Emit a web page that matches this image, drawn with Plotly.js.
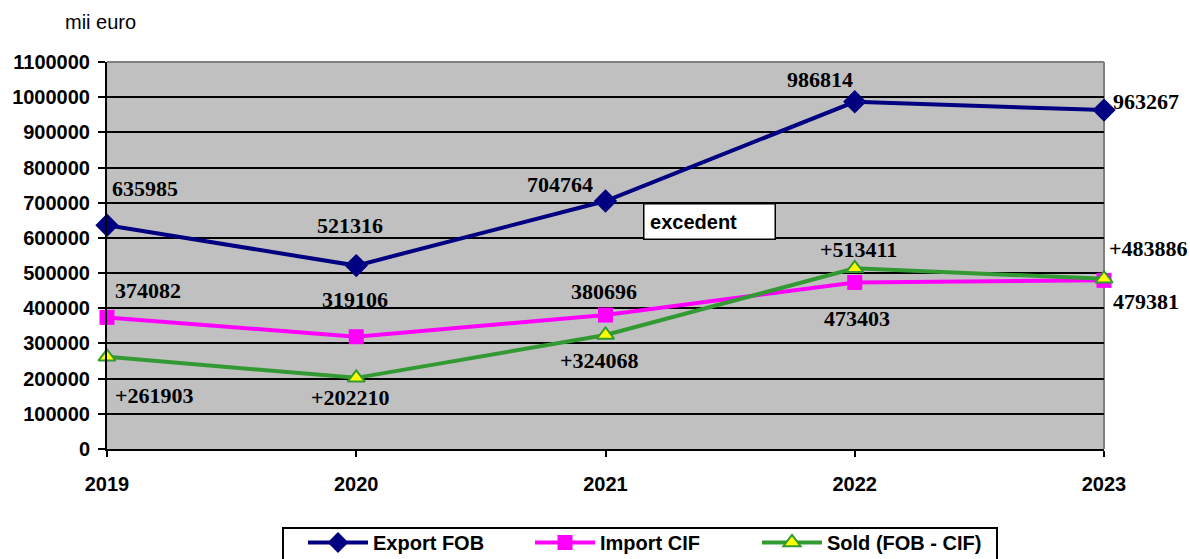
<!DOCTYPE html>
<html><head><meta charset="utf-8">
<script src="https://cdn.plot.ly/plotly-3.0.1.min.js"></script>
<style>html,body{margin:0;padding:0;background:#fff}#chart{width:1190px;height:559px}</style>
</head><body><div id="chart"></div>
<script>
const years = [2019, 2020, 2021, 2022, 2023];
const exportFOB = [635985, 521316, 704764, 986814, 963267];
const importCIF = [374082, 319106, 380696, 473403, 479381];
const sold = [261903, 202210, 324068, 513411, 483886];
const yTicks = [0,100000,200000,300000,400000,500000,600000,700000,800000,900000,1000000,1100000];

// label offsets (pixels) relative to each point
const expOff = [[38,37],[-6,40],[-46,17],[-35,22],[42,9]];
const impOff = [[41,27],[-1,37],[-2,24],[2,-36],[42,-21]];
const solOff = [[47,-39],[-6,-20],[-6,-26],[4,19],[44,30]];

const PL = 107, PR = 1104, PT = 62, PB = 449;
const px = v => (v - PL) / (PR - PL);
const py = v => (PB - v) / (PB - PT);

const lblFont = {family:'Liberation Serif, Times New Roman, serif', size:22, color:'#000', weight:700};
const ann = [];
function addLabels(vals, offs, prefix){
  vals.forEach((v,i)=>{
    ann.push({x:years[i], y:v, xref:'x', yref:'y', text:'<b>'+prefix+v+'</b>', showarrow:false,
      xshift:offs[i][0], yshift:offs[i][1], font:lblFont});
  });
}
addLabels(exportFOB, expOff, '');
addLabels(importCIF, impOff, '');
addLabels(sold, solOff, '+');

ann.push({x:px(643), y:py(203), xref:'paper', yref:'paper', xanchor:'left', yanchor:'top',
  text:'\u00a0<b>excedent</b>', showarrow:false, bgcolor:'#fff', bordercolor:'#000', borderwidth:1.5,
  width:130, height:34, align:'left', borderpad:0,
  font:{family:'Arial, Liberation Sans, sans-serif', size:20, color:'#000', weight:700}});
ann.push({x:px(63), y:py(22), xref:'paper', yref:'paper', xanchor:'left', yanchor:'middle',
  text:'mii euro', showarrow:false, font:{family:'Arial, Liberation Sans, sans-serif', size:20, color:'#000'}});

const traces = [
  {x:years, y:exportFOB, name:'Export FOB', type:'scatter', mode:'lines+markers', cliponaxis:false,
   line:{color:'#000080', width:4}, marker:{symbol:'diamond', size:18, color:'#000080'}},
  {x:years, y:importCIF, name:'Import CIF', type:'scatter', mode:'lines+markers', cliponaxis:false,
   line:{color:'#ff00ff', width:4}, marker:{symbol:'square', size:15, color:'#ff00ff'}},
  {x:years, y:sold, name:'Sold (FOB - CIF)', type:'scatter', mode:'lines+markers', cliponaxis:false,
   line:{color:'#339933', width:4}, marker:{symbol:'triangle-up', size:15, color:'#ffff00', line:{color:'#339933', width:2}}}
];

const axFont = {family:'Arial, Liberation Sans, sans-serif', size:20, color:'#000', weight:700};
const layout = {
  width:1190, height:559,
  margin:{l:107, r:86, t:62, b:110},
  paper_bgcolor:'#fff', plot_bgcolor:'#c0c0c0',
  showlegend:true,
  legend:{orientation:'h', xref:'container', yref:'container', x:303/1190, y:1-523/559, xanchor:'left', yanchor:'top',
    bgcolor:'rgba(0,0,0,0)', borderwidth:0, font:{family:'Arial, Liberation Sans, sans-serif', size:20, color:'#000', weight:700},
    itemwidth:60, tracegroupgap:0, entrywidth:152},
  xaxis:{type:'linear', range:[2019,2023], tickmode:'array', tickvals:years, ticktext:years.map(v=>'<b>'+v+'</b>'),
    showgrid:false, zeroline:false, showline:true, linecolor:'#000', linewidth:2,
    ticks:'outside', ticklen:6, tickwidth:2, tickcolor:'#000', tickfont:axFont, ticklabelstandoff:10},
  yaxis:{range:[0,1100000], tickmode:'array', tickvals:yTicks, ticktext:yTicks.map(v=>'<b>'+v+'</b>'),
    showgrid:true, gridcolor:'#000', gridwidth:2, zeroline:false, showline:true, linecolor:'#000', linewidth:2,
    ticks:'outside', ticklen:7, tickwidth:2, tickcolor:'#000', tickfont:axFont, ticklabelstandoff:4},
  shapes:[
    {type:'line', xref:'x domain', yref:'y domain', x0:0, x1:1, y0:1, y1:1, line:{color:'#808080', width:2}, layer:'below'},
    {type:'line', xref:'x domain', yref:'y domain', x0:1, x1:1, y0:0, y1:1, line:{color:'#808080', width:2}, layer:'below'},
    {type:'rect', xref:'paper', yref:'paper', x0:px(283), x1:px(997), y0:py(528), y1:py(600), line:{color:'#000', width:2}, fillcolor:'#fff', layer:'below'}
  ],
  annotations:ann
};
Plotly.newPlot('chart', traces, layout, {displayModeBar:false, staticPlot:true});
</script></body></html>
